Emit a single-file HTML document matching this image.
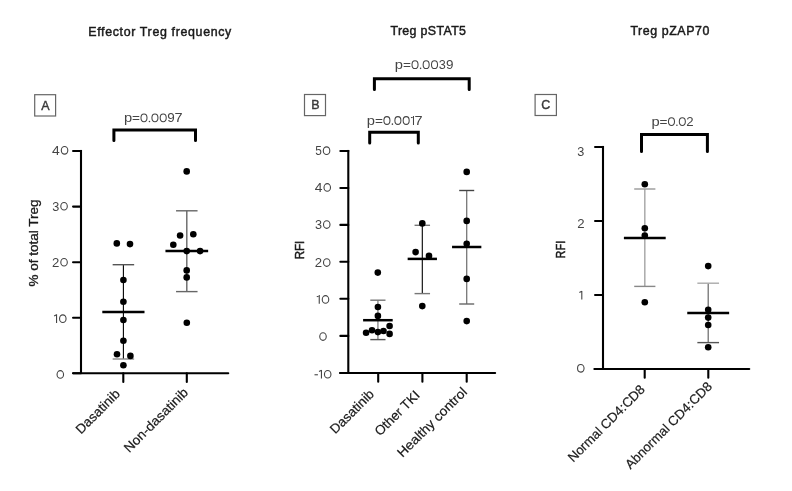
<!DOCTYPE html>
<html><head><meta charset="utf-8"><style>
html,body{margin:0;padding:0;background:#fff;}
svg{display:block;font-family:"Liberation Sans", sans-serif;will-change:transform;}
</style></head><body>
<svg width="792" height="491" viewBox="0 0 792 491">
<rect width="792" height="491" fill="#fff"/>
<text x="159.8" y="36.2" font-size="12.4" font-weight="normal" fill="#1a1a1a" text-anchor="middle" textLength="143" lengthAdjust="spacing" stroke="#1a1a1a" stroke-width="0.45">Effector Treg frequency</text>
<text x="428.2" y="35" font-size="12.4" font-weight="normal" fill="#1a1a1a" text-anchor="middle" textLength="75.5" lengthAdjust="spacing" stroke="#1a1a1a" stroke-width="0.45">Treg pSTAT5</text>
<text x="669.9" y="35" font-size="12.4" font-weight="normal" fill="#1a1a1a" text-anchor="middle" textLength="79" lengthAdjust="spacing" stroke="#1a1a1a" stroke-width="0.45">Treg pZAP70</text>
<rect x="34.7" y="94.7" width="20.9" height="21.299999999999997" fill="none" stroke="#666" stroke-width="1.2"/>
<text x="45.5" y="109.8" font-size="12.5" font-weight="normal" fill="#3a3a3a" text-anchor="middle" stroke="#3a3a3a" stroke-width="0.4">A</text>
<rect x="304.5" y="94.5" width="21" height="21.099999999999994" fill="none" stroke="#666" stroke-width="1.2"/>
<text x="315.5" y="109" font-size="12.5" font-weight="normal" fill="#3a3a3a" text-anchor="middle" stroke="#3a3a3a" stroke-width="0.4">B</text>
<rect x="535.1" y="94.5" width="21.299999999999955" height="21" fill="none" stroke="#666" stroke-width="1.2"/>
<text x="545.8" y="109.1" font-size="12.5" font-weight="normal" fill="#3a3a3a" text-anchor="middle" stroke="#3a3a3a" stroke-width="0.4">C</text>
<line x1="81.0" y1="149.95" x2="81.0" y2="373.2" stroke="#000" stroke-width="2.1" stroke-linecap="butt"/>
<line x1="73.05" y1="151" x2="81.0" y2="151" stroke="#000" stroke-width="2.1" stroke-linecap="round"/>
<text x="0" y="0" font-size="12.46" fill="#444" transform="translate(52.25,154.70) scale(1.117,1) translate(-0.29,0)">4</text>
<ellipse cx="64.55" cy="150.35" rx="3.25" ry="3.80" fill="none" stroke="#444" stroke-width="1.1"/>
<line x1="73.05" y1="206.6" x2="81.0" y2="206.6" stroke="#000" stroke-width="2.1" stroke-linecap="round"/>
<text x="0" y="0" font-size="12.46" fill="#444" transform="translate(52.75,210.60) scale(1.018,1) translate(-0.47,0)">3</text>
<ellipse cx="64.05" cy="206.25" rx="3.25" ry="3.80" fill="none" stroke="#444" stroke-width="1.1"/>
<line x1="73.05" y1="262.2" x2="81.0" y2="262.2" stroke="#000" stroke-width="2.1" stroke-linecap="round"/>
<text x="0" y="0" font-size="12.46" fill="#444" transform="translate(52.75,266.60) scale(1.058,1) translate(-0.62,0)">2</text>
<ellipse cx="64.05" cy="262.25" rx="3.25" ry="3.80" fill="none" stroke="#444" stroke-width="1.1"/>
<line x1="73.05" y1="317.8" x2="81.0" y2="317.8" stroke="#000" stroke-width="2.1" stroke-linecap="round"/>
<path d="M56.55,314.30 V323.00 M54.10,315.90 L56.55,314.70" fill="none" stroke="#444" stroke-width="1.1"/>
<ellipse cx="62.80" cy="318.65" rx="3.25" ry="3.80" fill="none" stroke="#444" stroke-width="1.1"/>
<line x1="73.05" y1="373.2" x2="81.0" y2="373.2" stroke="#000" stroke-width="2.1" stroke-linecap="round"/>
<ellipse cx="60.30" cy="374.45" rx="3.25" ry="3.80" fill="none" stroke="#444" stroke-width="1.1"/>
<line x1="73.14999999999999" y1="373.2" x2="228.25" y2="373.2" stroke="#000" stroke-width="2.1" stroke-linecap="round"/>
<line x1="123.3" y1="373.2" x2="123.3" y2="381.95" stroke="#000" stroke-width="2.1" stroke-linecap="round"/>
<line x1="186.8" y1="373.2" x2="186.8" y2="381.95" stroke="#000" stroke-width="2.1" stroke-linecap="round"/>
<polyline points="113.9,140.5 113.9,130.1 195.5,130.1 195.5,140.5" fill="none" stroke="#000" stroke-width="3" stroke-linejoin="miter" stroke-linecap="round"/>
<text x="0" y="0" font-size="12.61" fill="#444" transform="translate(124.90,122.20) scale(1.169,1) translate(-0.82,0)">p</text>
<text x="0" y="0" font-size="12.61" fill="#444" transform="translate(132.67,122.20) scale(1.079,1) translate(-0.62,0)">=</text>
<ellipse cx="143.99" cy="117.80" rx="3.02" ry="3.88" fill="none" stroke="#444" stroke-width="1.05"/>
<circle cx="149.46" cy="121.45" r="0.8" fill="#444"/>
<ellipse cx="154.94" cy="117.80" rx="3.02" ry="3.88" fill="none" stroke="#444" stroke-width="1.05"/>
<ellipse cx="163.21" cy="117.80" rx="3.02" ry="3.88" fill="none" stroke="#444" stroke-width="1.05"/>
<text x="0" y="0" font-size="12.61" fill="#444" transform="translate(167.93,122.20) scale(1.067,1) translate(-0.59,0)">9</text>
<text x="0" y="0" font-size="12.61" fill="#444" transform="translate(175.30,122.20) scale(1.153,1) translate(-0.64,0)">7</text>
<line x1="123.4" y1="264.7" x2="123.4" y2="359.0" stroke="#000" stroke-width="1.1" stroke-linecap="butt"/>
<line x1="112.65" y1="264.7" x2="134.15" y2="264.7" stroke="#555" stroke-width="1.4" stroke-linecap="butt"/>
<line x1="112.65" y1="359.0" x2="134.15" y2="359.0" stroke="#888" stroke-width="1.4" stroke-linecap="butt"/>
<line x1="102.30000000000001" y1="311.90000000000003" x2="144.5" y2="311.90000000000003" stroke="#000" stroke-width="2.5" stroke-linecap="butt"/>
<circle cx="116.8" cy="243.40" r="3.3" fill="#000"/>
<circle cx="130" cy="244.10" r="3.3" fill="#000"/>
<circle cx="123.4" cy="280.00" r="3.3" fill="#000"/>
<circle cx="123.4" cy="301.70" r="3.3" fill="#000"/>
<circle cx="123.4" cy="320.00" r="3.3" fill="#000"/>
<circle cx="123.4" cy="340.80" r="3.3" fill="#000"/>
<circle cx="117" cy="354.20" r="3.3" fill="#000"/>
<circle cx="130.4" cy="355.90" r="3.3" fill="#000"/>
<circle cx="123.4" cy="365.20" r="3.3" fill="#000"/>
<line x1="186.8" y1="210.8" x2="186.8" y2="291.6" stroke="#666" stroke-width="1.4" stroke-linecap="butt"/>
<line x1="176.05" y1="210.8" x2="197.55" y2="210.8" stroke="#666" stroke-width="1.4" stroke-linecap="butt"/>
<line x1="176.05" y1="291.6" x2="197.55" y2="291.6" stroke="#666" stroke-width="1.4" stroke-linecap="butt"/>
<line x1="165.45000000000002" y1="251.0" x2="208.15" y2="251.0" stroke="#000" stroke-width="2.5" stroke-linecap="butt"/>
<circle cx="186.7" cy="171.40" r="3.3" fill="#000"/>
<circle cx="180.1" cy="235.50" r="3.3" fill="#000"/>
<circle cx="193.3" cy="234.30" r="3.3" fill="#000"/>
<circle cx="173.3" cy="244.80" r="3.3" fill="#000"/>
<circle cx="186.7" cy="251.10" r="3.3" fill="#000"/>
<circle cx="200.1" cy="251.10" r="3.3" fill="#000"/>
<circle cx="186.7" cy="270.40" r="3.3" fill="#000"/>
<circle cx="186.7" cy="277.40" r="3.3" fill="#000"/>
<circle cx="186.8" cy="322.70" r="3.3" fill="#000"/>
<text x="0" y="0" font-size="12" font-weight="normal" fill="#1a1a1a" text-anchor="middle" textLength="87" lengthAdjust="spacingAndGlyphs" stroke="#1a1a1a" stroke-width="0.3" transform="translate(38.2,243) rotate(-90)">% of total Treg</text>
<line x1="348.3" y1="149.95" x2="348.3" y2="373" stroke="#000" stroke-width="2.1" stroke-linecap="butt"/>
<line x1="340.35" y1="151" x2="348.3" y2="151" stroke="#000" stroke-width="2.1" stroke-linecap="round"/>
<text x="0" y="0" font-size="12.46" fill="#444" transform="translate(315.65,155.00) scale(0.950,1) translate(-0.50,0)">5</text>
<ellipse cx="326.55" cy="150.65" rx="3.25" ry="3.80" fill="none" stroke="#444" stroke-width="1.1"/>
<line x1="340.35" y1="188.0" x2="348.3" y2="188.0" stroke="#000" stroke-width="2.1" stroke-linecap="round"/>
<text x="0" y="0" font-size="12.46" fill="#444" transform="translate(314.95,191.80) scale(1.117,1) translate(-0.29,0)">4</text>
<ellipse cx="327.25" cy="187.45" rx="3.25" ry="3.80" fill="none" stroke="#444" stroke-width="1.1"/>
<line x1="340.35" y1="224.9" x2="348.3" y2="224.9" stroke="#000" stroke-width="2.1" stroke-linecap="round"/>
<text x="0" y="0" font-size="12.46" fill="#444" transform="translate(315.45,228.90) scale(1.018,1) translate(-0.47,0)">3</text>
<ellipse cx="326.75" cy="224.55" rx="3.25" ry="3.80" fill="none" stroke="#444" stroke-width="1.1"/>
<line x1="340.35" y1="261.8" x2="348.3" y2="261.8" stroke="#000" stroke-width="2.1" stroke-linecap="round"/>
<text x="0" y="0" font-size="12.46" fill="#444" transform="translate(315.45,266.90) scale(1.058,1) translate(-0.62,0)">2</text>
<ellipse cx="326.75" cy="262.55" rx="3.25" ry="3.80" fill="none" stroke="#444" stroke-width="1.1"/>
<line x1="340.35" y1="298.8" x2="348.3" y2="298.8" stroke="#000" stroke-width="2.1" stroke-linecap="round"/>
<path d="M319.25,295.10 V303.80 M316.80,296.70 L319.25,295.50" fill="none" stroke="#444" stroke-width="1.1"/>
<ellipse cx="325.50" cy="299.45" rx="3.25" ry="3.80" fill="none" stroke="#444" stroke-width="1.1"/>
<line x1="340.35" y1="335.9" x2="348.3" y2="335.9" stroke="#000" stroke-width="2.1" stroke-linecap="round"/>
<ellipse cx="323.00" cy="336.55" rx="3.25" ry="3.80" fill="none" stroke="#444" stroke-width="1.1"/>
<line x1="340.35" y1="373" x2="348.3" y2="373" stroke="#000" stroke-width="2.1" stroke-linecap="round"/>
<line x1="314.50" y1="374.77" x2="317.90" y2="374.77" stroke="#444" stroke-width="1.1"/>
<path d="M321.45,369.90 V378.60 M319.00,371.50 L321.45,370.30" fill="none" stroke="#444" stroke-width="1.1"/>
<ellipse cx="327.70" cy="374.25" rx="3.25" ry="3.80" fill="none" stroke="#444" stroke-width="1.1"/>
<line x1="340.05" y1="373" x2="495.15" y2="373" stroke="#000" stroke-width="2.1" stroke-linecap="round"/>
<line x1="378.2" y1="373" x2="378.2" y2="381.65" stroke="#000" stroke-width="2.1" stroke-linecap="round"/>
<line x1="422.4" y1="373" x2="422.4" y2="381.65" stroke="#000" stroke-width="2.1" stroke-linecap="round"/>
<line x1="466.7" y1="373" x2="466.7" y2="381.65" stroke="#000" stroke-width="2.1" stroke-linecap="round"/>
<polyline points="374.4,89.6 374.4,78.8 469.2,78.8 469.2,89.6" fill="none" stroke="#000" stroke-width="3" stroke-linejoin="miter" stroke-linecap="round"/>
<text x="0" y="0" font-size="12.61" fill="#444" transform="translate(395.75,69.10) scale(1.169,1) translate(-0.82,0)">p</text>
<text x="0" y="0" font-size="12.61" fill="#444" transform="translate(403.61,69.10) scale(1.079,1) translate(-0.62,0)">=</text>
<ellipse cx="415.03" cy="64.70" rx="3.02" ry="3.88" fill="none" stroke="#444" stroke-width="1.05"/>
<circle cx="420.59" cy="68.35" r="0.8" fill="#444"/>
<ellipse cx="426.16" cy="64.70" rx="3.02" ry="3.88" fill="none" stroke="#444" stroke-width="1.05"/>
<ellipse cx="434.52" cy="64.70" rx="3.02" ry="3.88" fill="none" stroke="#444" stroke-width="1.05"/>
<text x="0" y="0" font-size="12.61" fill="#444" transform="translate(439.34,69.10) scale(1.006,1) translate(-0.48,0)">3</text>
<text x="0" y="0" font-size="12.61" fill="#444" transform="translate(446.60,69.10) scale(1.067,1) translate(-0.59,0)">9</text>
<polyline points="369.7,143 369.7,132.2 418.3,132.2 418.3,143" fill="none" stroke="#000" stroke-width="3" stroke-linejoin="miter" stroke-linecap="round"/>
<text x="0" y="0" font-size="12.61" fill="#444" transform="translate(367.80,124.90) scale(1.169,1) translate(-0.82,0)">p</text>
<text x="0" y="0" font-size="12.61" fill="#444" transform="translate(375.59,124.90) scale(1.079,1) translate(-0.62,0)">=</text>
<ellipse cx="386.92" cy="120.50" rx="3.02" ry="3.88" fill="none" stroke="#444" stroke-width="1.05"/>
<circle cx="392.41" cy="124.15" r="0.8" fill="#444"/>
<ellipse cx="397.89" cy="120.50" rx="3.02" ry="3.88" fill="none" stroke="#444" stroke-width="1.05"/>
<ellipse cx="406.18" cy="120.50" rx="3.02" ry="3.88" fill="none" stroke="#444" stroke-width="1.05"/>
<path d="M413.49,116.10 V124.90 M411.01,117.70 L413.49,116.50" fill="none" stroke="#444" stroke-width="1.05"/>
<text x="0" y="0" font-size="12.61" fill="#444" transform="translate(415.20,124.90) scale(1.153,1) translate(-0.64,0)">7</text>
<line x1="377.9" y1="300.2" x2="377.9" y2="339.6" stroke="#999" stroke-width="1.6" stroke-linecap="butt"/>
<line x1="370.29999999999995" y1="300.2" x2="385.5" y2="300.2" stroke="#777" stroke-width="1.4" stroke-linecap="butt"/>
<line x1="370.29999999999995" y1="339.6" x2="385.5" y2="339.6" stroke="#555" stroke-width="1.4" stroke-linecap="butt"/>
<line x1="363.09999999999997" y1="320.2" x2="392.7" y2="320.2" stroke="#000" stroke-width="2.5" stroke-linecap="butt"/>
<circle cx="377.8" cy="272.60" r="3.3" fill="#000"/>
<circle cx="377.9" cy="307.00" r="3.3" fill="#000"/>
<circle cx="377.9" cy="315.90" r="3.3" fill="#000"/>
<circle cx="389.6" cy="326.00" r="3.3" fill="#000"/>
<circle cx="366.1" cy="332.80" r="3.3" fill="#000"/>
<circle cx="372" cy="330.20" r="3.3" fill="#000"/>
<circle cx="377.9" cy="332.10" r="3.3" fill="#000"/>
<circle cx="383.5" cy="331.00" r="3.3" fill="#000"/>
<circle cx="389.6" cy="333.90" r="3.3" fill="#000"/>
<line x1="422.3" y1="225.3" x2="422.3" y2="293.6" stroke="#000" stroke-width="1.1" stroke-linecap="butt"/>
<line x1="414.55" y1="225.3" x2="430.05" y2="225.3" stroke="#777" stroke-width="1.4" stroke-linecap="butt"/>
<line x1="414.55" y1="293.6" x2="430.05" y2="293.6" stroke="#777" stroke-width="1.4" stroke-linecap="butt"/>
<line x1="407.65000000000003" y1="258.90000000000003" x2="436.95" y2="258.90000000000003" stroke="#000" stroke-width="2.5" stroke-linecap="butt"/>
<circle cx="422.3" cy="223.40" r="3.3" fill="#000"/>
<circle cx="415.6" cy="252.10" r="3.3" fill="#000"/>
<circle cx="429" cy="255.90" r="3.3" fill="#000"/>
<circle cx="422.3" cy="306.10" r="3.3" fill="#000"/>
<line x1="466.7" y1="190.5" x2="466.7" y2="304.0" stroke="#777" stroke-width="1.3" stroke-linecap="butt"/>
<line x1="459.2" y1="190.5" x2="474.2" y2="190.5" stroke="#444" stroke-width="1.4" stroke-linecap="butt"/>
<line x1="459.2" y1="304.0" x2="474.2" y2="304.0" stroke="#666" stroke-width="1.4" stroke-linecap="butt"/>
<line x1="452.05" y1="247.0" x2="481.34999999999997" y2="247.0" stroke="#000" stroke-width="2.5" stroke-linecap="butt"/>
<circle cx="466.7" cy="171.90" r="3.3" fill="#000"/>
<circle cx="466.7" cy="220.90" r="3.3" fill="#000"/>
<circle cx="466.7" cy="243.80" r="3.3" fill="#000"/>
<circle cx="466.7" cy="278.90" r="3.3" fill="#000"/>
<circle cx="466.7" cy="321.10" r="3.3" fill="#000"/>
<text x="0" y="0" font-size="12.3" font-weight="normal" fill="#1a1a1a" text-anchor="middle" textLength="18.5" lengthAdjust="spacingAndGlyphs" stroke="#1a1a1a" stroke-width="0.5" transform="translate(303.9,250) rotate(-90)">RFI</text>
<line x1="603" y1="145.95" x2="603" y2="369" stroke="#000" stroke-width="2.1" stroke-linecap="butt"/>
<line x1="595.05" y1="147" x2="603" y2="147" stroke="#000" stroke-width="2.1" stroke-linecap="round"/>
<text x="0" y="0" font-size="12.46" fill="#444" transform="translate(577.80,155.60) scale(1.018,1) translate(-0.47,0)">3</text>
<line x1="595.05" y1="221" x2="603" y2="221" stroke="#000" stroke-width="2.1" stroke-linecap="round"/>
<text x="0" y="0" font-size="12.46" fill="#444" transform="translate(577.80,228.00) scale(1.058,1) translate(-0.62,0)">2</text>
<line x1="595.05" y1="295" x2="603" y2="295" stroke="#000" stroke-width="2.1" stroke-linecap="round"/>
<path d="M581.80,290.90 V299.60 M579.35,292.50 L581.80,291.30" fill="none" stroke="#444" stroke-width="1.1"/>
<line x1="595.05" y1="369" x2="603" y2="369" stroke="#000" stroke-width="2.1" stroke-linecap="round"/>
<ellipse cx="580.80" cy="368.35" rx="3.25" ry="3.80" fill="none" stroke="#444" stroke-width="1.1"/>
<line x1="594.3499999999999" y1="369" x2="749.25" y2="369" stroke="#000" stroke-width="2.1" stroke-linecap="round"/>
<line x1="644.7" y1="369" x2="644.7" y2="377.65" stroke="#000" stroke-width="2.1" stroke-linecap="round"/>
<line x1="708.3" y1="369" x2="708.3" y2="377.65" stroke="#000" stroke-width="2.1" stroke-linecap="round"/>
<polyline points="641.5,151.5 641.5,134.5 707.4,134.5 707.4,151.5" fill="none" stroke="#000" stroke-width="3" stroke-linejoin="miter" stroke-linecap="round"/>
<text x="0" y="0" font-size="12.61" fill="#444" transform="translate(652.50,126.00) scale(1.169,1) translate(-0.82,0)">p</text>
<text x="0" y="0" font-size="12.61" fill="#444" transform="translate(660.22,126.00) scale(1.079,1) translate(-0.62,0)">=</text>
<ellipse cx="671.49" cy="121.60" rx="3.02" ry="3.88" fill="none" stroke="#444" stroke-width="1.05"/>
<circle cx="676.91" cy="125.25" r="0.8" fill="#444"/>
<ellipse cx="682.33" cy="121.60" rx="3.02" ry="3.88" fill="none" stroke="#444" stroke-width="1.05"/>
<text x="0" y="0" font-size="12.61" fill="#444" transform="translate(687.00,126.00) scale(1.046,1) translate(-0.63,0)">2</text>
<line x1="644.8" y1="189.0" x2="644.8" y2="286.40000000000003" stroke="#aaa" stroke-width="1.5" stroke-linecap="butt"/>
<line x1="634.1999999999999" y1="189.0" x2="655.4" y2="189.0" stroke="#999" stroke-width="1.4" stroke-linecap="butt"/>
<line x1="634.1999999999999" y1="286.40000000000003" x2="655.4" y2="286.40000000000003" stroke="#888" stroke-width="1.4" stroke-linecap="butt"/>
<line x1="623.9" y1="237.9" x2="665.6999999999999" y2="237.9" stroke="#000" stroke-width="2.5" stroke-linecap="butt"/>
<circle cx="644.8" cy="184.20" r="3.3" fill="#000"/>
<circle cx="644.8" cy="228.20" r="3.3" fill="#000"/>
<circle cx="644.8" cy="235.50" r="3.3" fill="#000"/>
<circle cx="644.8" cy="302.20" r="3.3" fill="#000"/>
<line x1="708.2" y1="283.2" x2="708.2" y2="342.6" stroke="#666" stroke-width="1.2" stroke-linecap="butt"/>
<line x1="697.35" y1="283.2" x2="719.0500000000001" y2="283.2" stroke="#aaa" stroke-width="1.4" stroke-linecap="butt"/>
<line x1="697.35" y1="342.6" x2="719.0500000000001" y2="342.6" stroke="#555" stroke-width="1.4" stroke-linecap="butt"/>
<line x1="687.25" y1="313.0" x2="729.1500000000001" y2="313.0" stroke="#000" stroke-width="2.5" stroke-linecap="butt"/>
<circle cx="708.2" cy="266.10" r="3.3" fill="#000"/>
<circle cx="708.2" cy="309.80" r="3.3" fill="#000"/>
<circle cx="708.2" cy="317.60" r="3.3" fill="#000"/>
<circle cx="708.2" cy="325.00" r="3.3" fill="#000"/>
<circle cx="708.2" cy="347.20" r="3.3" fill="#000"/>
<text x="0" y="0" font-size="12.3" font-weight="normal" fill="#1a1a1a" text-anchor="middle" textLength="17.6" lengthAdjust="spacingAndGlyphs" stroke="#1a1a1a" stroke-width="0.5" transform="translate(564.6,249.6) rotate(-90)">RFI</text>
<text x="0" y="0" font-size="13.2" font-weight="normal" fill="#1a1a1a" text-anchor="end" textLength="56.38" lengthAdjust="spacingAndGlyphs" stroke="#1a1a1a" stroke-width="0.2" transform="translate(120.8,394.8) rotate(-45)">Dasatinib</text>
<text x="0" y="0" font-size="13.2" font-weight="normal" fill="#1a1a1a" text-anchor="end" textLength="84.68" lengthAdjust="spacingAndGlyphs" stroke="#1a1a1a" stroke-width="0.2" transform="translate(189.0,393.4) rotate(-45)">Non-dasatinib</text>
<text x="0" y="0" font-size="13.2" font-weight="normal" fill="#1a1a1a" text-anchor="end" textLength="55.87" lengthAdjust="spacingAndGlyphs" stroke="#1a1a1a" stroke-width="0.2" transform="translate(374.8,395.0) rotate(-45)">Dasatinib</text>
<text x="0" y="0" font-size="13.2" font-weight="normal" fill="#1a1a1a" text-anchor="end" textLength="57.45" lengthAdjust="spacingAndGlyphs" stroke="#1a1a1a" stroke-width="0.2" transform="translate(420.6,396.0) rotate(-45)">Other TKI</text>
<text x="0" y="0" font-size="13.2" font-weight="normal" fill="#1a1a1a" text-anchor="end" textLength="92.31" lengthAdjust="spacingAndGlyphs" stroke="#1a1a1a" stroke-width="0.2" transform="translate(467.8,392.8) rotate(-45)">Healthy control</text>
<text x="0" y="0" font-size="13.2" font-weight="normal" fill="#1a1a1a" text-anchor="end" textLength="102.71" lengthAdjust="spacingAndGlyphs" stroke="#1a1a1a" stroke-width="0.2" transform="translate(645.8,390.2) rotate(-45)">Normal CD4:CD8</text>
<text x="0" y="0" font-size="13.2" font-weight="normal" fill="#1a1a1a" text-anchor="end" textLength="116.66" lengthAdjust="spacingAndGlyphs" stroke="#1a1a1a" stroke-width="0.2" transform="translate(713.0,387.2) rotate(-45)">Abnormal CD4:CD8</text>
</svg>
</body></html>
